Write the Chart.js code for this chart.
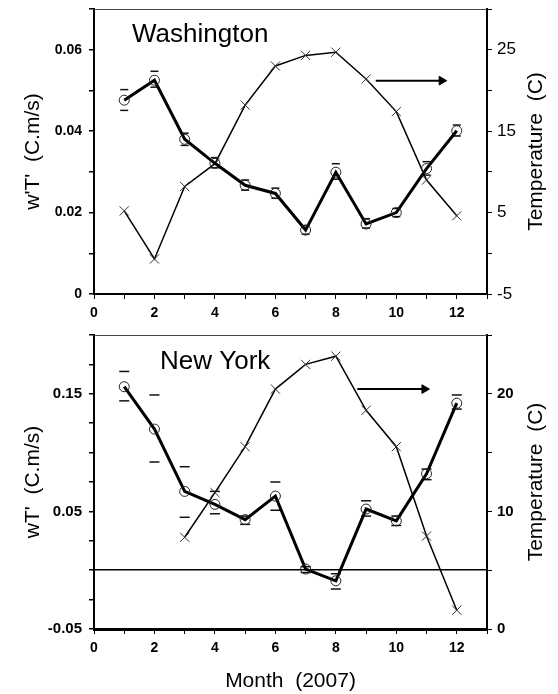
<!DOCTYPE html>
<html><head><meta charset="utf-8">
<script src="https://cdn.jsdelivr.net/npm/chart.js@4"></script>
<style>
html,body{margin:0;padding:0;background:#fff;}
#wrap{position:relative;width:558px;height:694px;background:#fff;}
#c1{position:absolute;left:0;top:0;}
#c2{position:absolute;left:0;top:320px;}
</style></head><body>
<div id="wrap"><canvas id="c1" width="558" height="320"></canvas><canvas id="c2" width="558" height="374"></canvas></div>
<script>
// ---- data ----
const months = [1,2,3,4,5,6,7,8,9,10,11,12];

// Washington
const washFlux   = [0.0476,0.0525,0.0380,0.0321,0.0267,0.0247,0.0157,0.0299,0.0172,0.0200,0.0308,0.0401];
const washFluxHi = [0.0502,0.0547,0.0395,0.0335,0.0280,0.0260,0.0168,0.0320,0.0185,0.0210,0.0325,0.0415];
const washFluxLo = [0.0451,0.0508,0.0365,0.0310,0.0255,0.0235,0.0147,0.0282,0.0162,0.0190,0.0292,0.0388];
const washTemp   = [5.2,-0.7,8.2,11.0,18.2,23.0,24.3,24.7,21.4,17.4,9.0,4.6];
const washArrowMonth = [9.32,11.5];
const washArrowTemp  = [21.2,21.2];

// New York
const nyFlux   = [0.156,0.120,0.067,0.056,0.043,0.063,0.001,-0.009,0.052,0.042,0.082,0.142];
const nyFluxHi = [0.169,0.149,0.088,0.067,0.046,0.075,0.003,-0.003,0.059,0.046,0.086,0.149];
const nyFluxLo = [0.144,0.092,0.045,0.048,0.039,0.051,-0.002,-0.016,0.046,0.038,0.077,0.137];
const nyTemp   = [null,null,7.8,11.6,15.5,20.4,22.5,23.2,18.6,15.5,7.9,1.6];
const nyArrowMonth = [8.71,10.93];
const nyArrowTemp  = [20.4,20.4];

// axis tick labels
const washFluxTickLabels = ['0','0.02','0.04','0.06'];
const washTempTickLabels = ['-5','5','15','25'];
const nyFluxTickLabels   = ['-0.05','0.05','0.15'];
const nyTempTickLabels   = ['0','10','20'];
const monthTickLabels    = ['0','2','4','6','8','10','12'];

// ---- helpers ----
const FAM = '"Liberation Sans", Arial, Helvetica, sans-serif';
const pts = (xs, ys) => xs.map((x,i)=>({x:x, y:ys[i]}));
const near = (a,b) => Math.abs(a-b) < 1e-6;
const pick = (v, list) => { const s = list.find(l => near(parseFloat(l), v)); return s === undefined ? '' : s; };
const noPad = s => { s.paddingTop = 0; s.paddingBottom = 0; s.paddingLeft = 0; s.paddingRight = 0; };

function decor(title, tx, ty, rightTitle){
  return {
    id:'decor',
    afterDraw(chart){
      const {ctx, chartArea:a} = chart;
      ctx.save();
      ctx.strokeStyle = '#444'; ctx.lineWidth = 1;
      ctx.beginPath(); ctx.moveTo(a.left, a.top+0.5); ctx.lineTo(a.right, a.top+0.5); ctx.stroke();
      ctx.fillStyle = '#000';
      ctx.font = '26px ' + FAM;
      ctx.textBaseline = 'middle'; ctx.textAlign = 'left';
      ctx.fillText(title, a.left + tx, a.top + ty);
      ctx.translate(a.right + 49, (a.top + a.bottom)/2);
      ctx.rotate(-Math.PI/2);
      ctx.textAlign = 'center';
      ctx.font = '21px ' + FAM;
      ctx.fillText(rightTitle, 0, 0);
      ctx.restore();
    }
  };
}

function makeChart(canvas, c){
  return new Chart(canvas, {
    type:'line',
    data:{ datasets:[
      { data: pts(months, c.flux), yAxisID:'y', borderColor:'#000', borderWidth:3,
        pointStyle:'circle', pointRadius:5, pointBorderWidth:1, pointBorderColor:'#222',
        pointBackgroundColor:'rgba(0,0,0,0)', tension:0 },
      { data: pts(months, c.hi), yAxisID:'y', showLine:false, pointStyle:'line',
        pointRadius:c.capR, pointBorderWidth:1.5, pointBorderColor:'#111' },
      { data: pts(months, c.lo), yAxisID:'y', showLine:false, pointStyle:'line',
        pointRadius:c.capR, pointBorderWidth:1.5, pointBorderColor:'#111' },
      { data: pts(months, c.temp), yAxisID:'y2', borderColor:'#000', borderWidth:1.5,
        pointStyle:'crossRot', pointRadius:6.5, pointBorderWidth:1, pointBorderColor:'#333', tension:0 },
      { data: pts(c.arrowX, c.arrowY), yAxisID:'y2', borderColor:'#000', borderWidth:2,
        pointStyle:'triangle', pointRotation:90, pointRadius:[0,5],
        pointBackgroundColor:'#000', pointBorderColor:'#000', pointBorderWidth:1 }
    ]},
    options:{
      responsive:false, animation:false, devicePixelRatio:1,
      layout:{ padding:{ top:c.padTop, left:0, right:0, bottom:0 } },
      plugins:{ legend:{display:false}, tooltip:{enabled:false} },
      scales:{
        x:{ type:'linear', min:0, max:13,
          afterFit: s => { s.height = c.xH; noPad(s); },
          border:{ color:'#000', width:c.xBorder },
          grid:{ display:true, drawOnChartArea:false, color:'#000', tickColor:'#000', tickLength:5 },
          ticks:{ stepSize:1, autoSkip:false, maxRotation:0, padding:6, color:'#000',
            font:{ family:FAM, size:14, weight:'bold' },
            callback: v => pick(v, monthTickLabels) },
          title:{ display:c.xTitle, text:'Month  (2007)', color:'#000',
            font:{ family:FAM, size:21 }, padding:{top:0,bottom:0} }
        },
        y:{ type:'linear', position:'left', min:c.yMin, max:c.yMax,
          afterFit: s => { s.width = 94; noPad(s); },
          border:{ color:'#000', width:2 },
          grid:{ display:true, drawOnChartArea:c.zeroLine,
            color: ctx => (c.zeroLine && ctx.tick && near(ctx.tick.value,0)) ? '#000' : 'rgba(0,0,0,0)',
            lineWidth:1.5, tickColor:'#000', tickLength:5 },
          ticks:{ stepSize:c.yStep, autoSkip:false, padding:7, color:'#000',
            font:{ family:FAM, size:c.yFont, weight:'bold' },
            callback: v => pick(v, c.yLabels) },
          title:{ display:true, text:c.yTitle, color:'#000',
            font:{ family:FAM, size:21 }, padding:{top:21,bottom:0} }
        },
        y2:{ type:'linear', position:'right', min:c.tMin, max:c.tMax,
          afterFit: s => { s.width = 71; noPad(s); },
          border:{ color:'#000', width:2 },
          grid:{ display:true, drawOnChartArea:false, color:'#000', tickColor:'#000', tickLength:5 },
          ticks:{ stepSize:5, autoSkip:false, padding:5, color:'#000',
            font:{ family:FAM, size:c.tFont, weight:c.tWeight },
            callback: v => pick(v, c.tLabels) }
        }
      }
    },
    plugins:[ decor(c.title, c.titleX, c.titleY, 'Temperature  (C)') ]
  });
}

makeChart(document.getElementById('c1'), {
  flux:washFlux, hi:washFluxHi, lo:washFluxLo, temp:washTemp,
  arrowX:washArrowMonth, arrowY:washArrowTemp, capR:4,
  padTop:9, xH:26, xBorder:2, xTitle:false,
  yMin:0, yMax:0.07, yStep:0.01, yLabels:washFluxTickLabels, yFont:14, zeroLine:false,
  yTitle:"w'T'  (C.m/s)",
  tMin:-5, tMax:30, tLabels:washTempTickLabels, tFont:17, tWeight:'normal',
  title:'Washington', titleX:38, titleY:26
});

makeChart(document.getElementById('c2'), {
  flux:nyFlux, hi:nyFluxHi, lo:nyFluxLo, temp:nyTemp,
  arrowX:nyArrowMonth, arrowY:nyArrowTemp, capR:5,
  padTop:15, xH:65, xBorder:3, xTitle:true,
  yMin:-0.05, yMax:0.2, yStep:0.025, yLabels:nyFluxTickLabels, yFont:15, zeroLine:true,
  yTitle:"wT'  (C.m/s)",
  tMin:0, tMax:25, tLabels:nyTempTickLabels, tFont:15, tWeight:'bold',
  title:'New York', titleX:66, titleY:27
});
</script>
</body></html>
